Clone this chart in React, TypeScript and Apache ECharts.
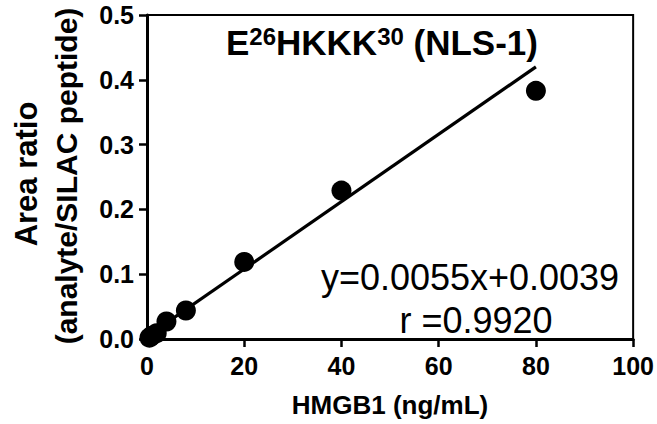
import React, { useEffect, useRef } from "react";
import * as echarts from "echarts";

const concX = [0.5, 1, 2, 4, 8, 20, 40, 80];
const ratioY = [0.002, 0.005, 0.009, 0.027, 0.044, 0.119, 0.229, 0.383];
const fitX = [0, 80];
const fitY = [0.004, 0.42];
const xTicks = [0, 20, 40, 60, 80, 100];
const yTicks = [0, 0.1, 0.2, 0.3, 0.4, 0.5];

const FONT = "'Liberation Sans', Arial, sans-serif";

export default function App() {
  const ref = useRef<HTMLDivElement>(null);
  useEffect(() => {
    if (!ref.current) return;
    const chart = echarts.init(ref.current, undefined, { renderer: "svg" });
    chart.setOption({
      animation: false,
      backgroundColor: "#fff",
      textStyle: { fontFamily: FONT },
      grid: {
        left: 147,
        top: 15,
        right: 22,
        bottom: 85,
        show: true,
        borderColor: "#000",
        borderWidth: 2,
        backgroundColor: "transparent",
      },
      xAxis: {
        type: "value",
        min: xTicks[0],
        max: xTicks[xTicks.length - 1],
        interval: 20,
        splitLine: { show: false },
        axisLine: { show: true, onZero: false, lineStyle: { color: "#000", width: 3 } },
        axisTick: { show: true, length: 8, lineStyle: { color: "#000", width: 2.5 } },
        axisLabel: { color: "#000", fontSize: 25, fontWeight: "bold", margin: 14, fontFamily: FONT },
      },
      yAxis: {
        type: "value",
        min: yTicks[0],
        max: yTicks[yTicks.length - 1],
        interval: 0.1,
        splitLine: { show: false },
        axisLine: { show: true, onZero: false, lineStyle: { color: "#000", width: 3 } },
        axisTick: { show: true, length: 8, lineStyle: { color: "#000", width: 2.5 } },
        axisLabel: {
          color: "#000",
          fontSize: 25,
          fontWeight: "bold",
          margin: 13,
          fontFamily: FONT,
          formatter: (v: number) => v.toFixed(1),
        },
      },
      graphic: [
        {
          type: "text",
          x: 26,
          y: 174,
          rotation: Math.PI / 2,
          style: {
            text: "Area ratio",
            font: `bold 31px ${FONT}`,
            fill: "#000",
            align: "center",
            verticalAlign: "middle",
          },
        },
        {
          type: "text",
          x: 66,
          y: 176,
          rotation: Math.PI / 2,
          style: {
            text: "(analyte/SILAC peptide)",
            font: `bold 30px ${FONT}`,
            fill: "#000",
            align: "center",
            verticalAlign: "middle",
          },
        },
        {
          type: "text",
          x: 390,
          y: 405,
          style: {
            text: "HMGB1 (ng/mL)",
            font: `bold 26px ${FONT}`,
            fill: "#000",
            align: "center",
            verticalAlign: "middle",
          },
        },
        {
          type: "text",
          x: 382,
          y: 42,
          style: {
            text: "{b|E}{s|26}{b|HKKK}{s|30}{b| (NLS-1)}",
            rich: {
              b: { font: `bold 35px ${FONT}`, fill: "#000", verticalAlign: "bottom" },
              s: { font: `bold 24px ${FONT}`, fill: "#000", verticalAlign: "top", padding: [0, 0, 12, 0] },
            },
            align: "center",
            verticalAlign: "middle",
          },
        },
        {
          type: "text",
          x: 470,
          y: 277,
          style: {
            text: "y=0.0055x+0.0039",
            font: `36px ${FONT}`,
            fill: "#000",
            align: "center",
            verticalAlign: "middle",
          },
        },
        {
          type: "text",
          x: 476,
          y: 320,
          style: {
            text: "r =0.9920",
            font: `36px ${FONT}`,
            fill: "#000",
            align: "center",
            verticalAlign: "middle",
          },
        },
      ],
      series: [
        {
          type: "line",
          data: fitX.map((x, i) => [x, fitY[i]]),
          showSymbol: false,
          symbol: "none",
          lineStyle: { color: "#000", width: 3.2 },
          z: 2,
        },
        {
          type: "scatter",
          data: concX.map((x, i) => [x, ratioY[i]]),
          symbol: "circle",
          symbolSize: 20,
          itemStyle: { color: "#000", opacity: 1 },
          z: 3,
        },
      ],
    });
    return () => chart.dispose();
  }, []);
  return (
    <div
      ref={ref}
      style={{ position: "fixed", left: 0, top: 0, width: 657, height: 424, overflow: "hidden" }}
    />
  );
}
